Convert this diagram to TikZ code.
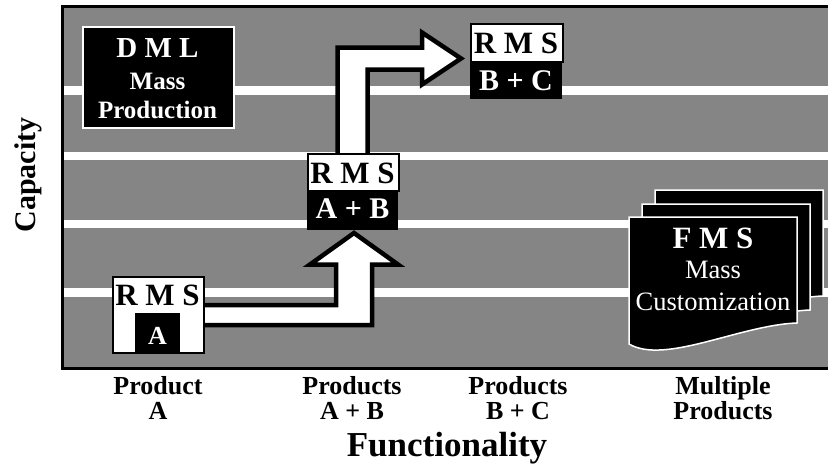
\documentclass[tikz,border=0pt]{standalone}
\usepackage{fontspec}
\setmainfont{Liberation Serif}
\definecolor{bggray}{gray}{0.52}
\begin{document}
\begin{tikzpicture}[x=1pt,y=-1pt,
  bt/.style={font=\bfseries\fontsize{#1}{#1}\selectfont, anchor=base, inner sep=0pt},
  rt/.style={font=\fontsize{#1}{#1}\selectfont, anchor=base, inner sep=0pt},
  blockarrow/.style={draw=black, fill=white, line width=4.5pt, line join=miter, miter limit=10},
  darkbox/.style={fill=black, draw=white, line width=1.8pt, inner sep=0pt, anchor=north west},
  blackpart/.style={fill=black, inner sep=0pt, anchor=north west},
  whitebox/.style={fill=white, draw=black, line width=1.8pt, inner sep=0pt, anchor=north west},
  fmsbox/.style={fill=black, draw=white, line width=1.5pt}
]
\fill[white] (0,0) rectangle (828,471);
\useasboundingbox (0,0) rectangle (828,471);
% plot area
\fill[bggray] (62,6) rectangle (828,368);
\foreach \a/\b in {86/95,152/160,220/228,288/297}
  \fill[white] (62,\a) rectangle (828,\b);
\draw[line width=3pt] (828,6) -- (62,6) -- (62,368.5) -- (828,368.5);

% DML box
\node[darkbox, minimum width=151pt, minimum height=101pt] (dml) at (82,26) {};
\node[bt=29, text=white] (dml1) at (157.5,57) {D M L};
\node[bt=25, text=white] (dml2) at (157.5,89) {Mass};
\node[bt=25, text=white] (dml3) at (157.5,118) {Production};

% block arrows
\draw[blockarrow] (200,305) -- (336,305) -- (336,264.5) -- (310,264.5) -- (354,233)
  -- (398,264.5) -- (372,264.5) -- (372,325) -- (200,325) -- cycle;
\draw[blockarrow] (337.5,156) -- (337.5,47.5) -- (422,47.5) -- (422,32.5) -- (461,58.5)
  -- (422,84.5) -- (422,69.5) -- (367.5,69.5) -- (367.5,156) -- cycle;

% RMS A
\node[whitebox, minimum width=91pt, minimum height=76pt] (rmsa) at (112,276) {};
\node[blackpart, minimum width=45pt, minimum height=39pt] (rmsain) at (135,313) {};
\node[bt=31] (rmsat) at (157.5,305) {R M S};
\node[bt=26, text=white] (rmsab) at (157.5,344) {A};

% RMS A+B
\node[blackpart, minimum width=91pt, minimum height=40pt] (abbot) at (307,190) {};
\node[whitebox, minimum width=91pt, minimum height=37pt] (abtop) at (307,153) {};
\node[bt=31] (abt) at (352.5,183) {R M S};
\node[bt=30, text=white] (abb) at (352.5,218) {A + B};

% RMS B+C
\node[blackpart, minimum width=92pt, minimum height=38pt] (bcbot) at (470,61) {};
\node[whitebox, minimum width=92pt, minimum height=38pt] (bctop) at (470,23) {};
\node[bt=31] (bct) at (516,53) {R M S};
\node[bt=30, text=white] (bcb) at (516,90) {B + C};

% FMS stack
\foreach \dx/\dy in {26/-27,13/-13,0/0}{
  \begin{scope}[shift={(\dx,\dy)}]
    \draw[fmsbox] (629,217) -- (797,217) -- (797,323)
      .. controls (740,325) and (665,365) .. (629,344) -- cycle;
  \end{scope}
}
\node[bt=31, text=white] (fms1) at (713,248) {F M S};
\node[rt=26.5, text=white] (fms2) at (713,278) {Mass};
\node[rt=26.5, text=white] (fms3) at (713,310) {Customization};

% axis labels
\node[font=\bfseries\fontsize{30}{30}\selectfont, rotate=90, inner sep=0pt] (cap) at (28,175) {Capacity};
\node[bt=26] (p1a) at (158,394) {Product};
\node[bt=26] (p1b) at (158,419) {A};
\node[bt=26] (p2a) at (352,394) {Products};
\node[bt=26] (p2b) at (352,419) {A + B};
\node[bt=26] (p3a) at (518,394) {Products};
\node[bt=26] (p3b) at (518,419) {B + C};
\node[bt=26] (p4a) at (723,394) {Multiple};
\node[bt=26] (p4b) at (723,419) {Products};
\node[bt=35] (func) at (447,456) {Functionality};
\end{tikzpicture}
\end{document}
